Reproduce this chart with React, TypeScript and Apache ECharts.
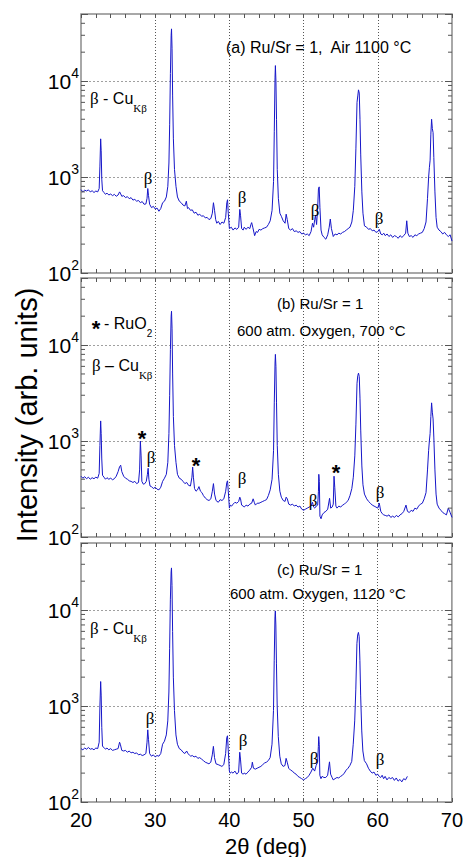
import React, { useEffect, useRef } from 'react';
import * as echarts from 'echarts';

const X_MIN = 20;
const X_MAX = 70;
const X_INTERVAL = 10;
const Y_MIN = 100;
const Y_MAX = 50000;
const minorYTicks = [200, 300, 400, 500, 600, 700, 800, 900, 2000, 3000, 4000, 5000, 6000, 7000, 8000, 9000, 20000, 30000, 40000];

const panelA: [number, number][] = [
  [20.0,740],[20.25,700],[20.5,730],[20.75,715],[21.0,735],[21.25,700],[21.5,720],[21.75,690],[22.0,715],[22.25,700],[22.45,760],[22.55,1300],[22.65,2500],[22.72,1900],[22.8,950],[22.9,720],[23.1,690],[23.3,660],[23.5,680],[23.75,650],[24.0,665],[24.25,640],[24.5,660],[24.75,630],[25.0,650],[25.2,700],[25.3,680],[25.5,630],[25.75,640],[26.0,610],[26.25,625],[26.5,595],[26.75,610],[27.0,575],[27.25,585],[27.5,560],[27.75,570],[28.0,540],[28.25,555],[28.5,520],[28.75,525],[28.9,600],[29.0,760],[29.1,640],[29.25,520],[29.5,480],[29.75,495],[30.0,465],[30.25,475],[30.5,440],[30.75,470],[31.0,540],[31.25,560],[31.5,620],[31.7,800],[31.85,1400],[31.95,3500],[32.05,12000],[32.15,30000],[32.2,35000],[32.27,22000],[32.35,7000],[32.45,2500],[32.6,1200],[32.8,800],[33.0,620],[33.25,560],[33.5,540],[33.75,510],[34.0,500],[34.2,560],[34.35,470],[34.5,480],[34.75,450],[35.0,455],[35.25,420],[35.5,430],[35.75,400],[36.0,410],[36.25,390],[36.5,395],[36.75,375],[37.0,380],[37.25,360],[37.5,370],[37.7,420],[37.85,540],[38.0,450],[38.15,360],[38.3,330],[38.5,345],[38.75,320],[39.0,340],[39.25,330],[39.5,380],[39.65,540],[39.75,580],[39.85,420],[40.0,290],[40.25,300],[40.5,280],[40.75,295],[41.0,285],[41.25,300],[41.4,460],[41.5,400],[41.65,290],[41.85,280],[42.0,300],[42.25,285],[42.5,300],[42.75,290],[42.9,320],[43.0,335],[43.15,300],[43.4,245],[43.6,270],[43.8,265],[44.0,285],[44.25,280],[44.5,290],[44.75,295],[45.0,300],[45.25,320],[45.5,350],[45.75,450],[45.95,900],[46.05,3000],[46.15,11000],[46.2,14500],[46.27,10000],[46.35,4000],[46.45,1200],[46.6,600],[46.8,420],[47.0,390],[47.25,350],[47.5,330],[47.65,410],[47.8,360],[48.0,290],[48.25,280],[48.5,290],[48.75,270],[49.0,275],[49.25,265],[49.5,270],[49.75,255],[50.0,260],[50.25,250],[50.5,255],[50.75,245],[51.0,270],[51.2,330],[51.35,300],[51.5,360],[51.6,400],[51.75,320],[51.9,480],[52.0,750],[52.1,790],[52.2,480],[52.35,280],[52.5,250],[52.75,235],[53.0,225],[53.25,250],[53.45,300],[53.6,365],[53.75,290],[54.0,240],[54.25,255],[54.5,250],[54.75,260],[55.0,255],[55.25,265],[55.5,270],[55.75,280],[56.0,290],[56.25,300],[56.5,340],[56.7,450],[56.9,800],[57.05,2000],[57.2,6000],[57.3,7000],[57.4,8100],[57.5,7500],[57.6,4000],[57.7,1700],[57.85,700],[58.0,420],[58.2,310],[58.5,300],[58.75,285],[59.0,290],[59.25,275],[59.5,280],[59.75,265],[60.0,270],[60.2,285],[60.4,255],[60.6,250],[60.8,260],[61.0,245],[61.25,255],[61.5,240],[61.75,250],[62.0,235],[62.25,245],[62.5,240],[62.75,230],[63.0,245],[63.25,235],[63.5,245],[63.75,260],[63.9,350],[64.05,260],[64.25,240],[64.5,245],[64.75,235],[65.0,250],[65.25,245],[65.5,255],[65.75,260],[66.0,265],[66.25,290],[66.5,340],[66.7,600],[66.85,1000],[66.95,1250],[67.05,1500],[67.15,2800],[67.25,4000],[67.35,3200],[67.45,2900],[67.55,1600],[67.7,700],[67.85,380],[68.0,300],[68.25,280],[68.5,270],[68.75,255],[69.0,265],[69.25,250],[69.5,240],[69.75,250],[70.0,215]
];

const panelB: [number, number][] = [
  [20.0,430],[20.25,410],[20.5,425],[20.75,405],[21.0,420],[21.25,400],[21.5,415],[21.75,405],[22.0,420],[22.25,410],[22.45,460],[22.55,900],[22.65,1620],[22.72,1200],[22.8,650],[22.9,440],[23.1,420],[23.3,400],[23.5,415],[23.75,400],[24.0,410],[24.25,395],[24.5,405],[24.75,430],[25.0,480],[25.2,540],[25.35,560],[25.5,480],[25.75,430],[26.0,410],[26.25,400],[26.5,385],[26.75,380],[27.0,370],[27.25,380],[27.5,360],[27.75,370],[27.9,500],[28.0,1000],[28.1,700],[28.2,380],[28.4,355],[28.6,360],[28.8,380],[28.95,450],[29.05,520],[29.15,400],[29.3,340],[29.5,335],[29.75,320],[30.0,330],[30.25,315],[30.5,310],[30.75,330],[31.0,380],[31.25,410],[31.5,450],[31.7,600],[31.85,1200],[31.95,3000],[32.05,9000],[32.15,20000],[32.2,22500],[32.27,15000],[32.35,5000],[32.45,1800],[32.6,900],[32.8,600],[33.0,450],[33.25,410],[33.5,400],[33.75,380],[34.0,360],[34.25,370],[34.5,345],[34.75,340],[34.95,420],[35.05,535],[35.15,420],[35.3,320],[35.5,300],[35.7,310],[35.9,335],[36.1,300],[36.3,290],[36.5,270],[36.75,255],[37.0,245],[37.25,240],[37.5,250],[37.7,300],[37.85,360],[38.0,280],[38.2,240],[38.5,230],[38.75,245],[39.0,240],[39.25,250],[39.5,300],[39.65,370],[39.75,385],[39.85,300],[40.0,200],[40.1,215],[40.3,210],[40.5,220],[40.75,230],[41.0,225],[41.25,235],[41.4,260],[41.5,250],[41.65,215],[41.85,210],[42.0,205],[42.25,215],[42.5,210],[42.75,220],[43.0,225],[43.2,250],[43.35,230],[43.5,215],[43.75,225],[44.0,225],[44.25,230],[44.5,235],[44.75,240],[45.0,245],[45.25,270],[45.5,310],[45.75,400],[45.95,800],[46.05,2500],[46.15,6500],[46.2,8000],[46.27,6000],[46.35,2500],[46.45,900],[46.6,450],[46.8,300],[47.0,260],[47.25,240],[47.5,235],[47.65,260],[47.8,250],[48.0,220],[48.25,215],[48.5,220],[48.75,210],[49.0,215],[49.25,205],[49.5,210],[49.75,195],[50.0,190],[50.25,195],[50.5,200],[50.75,205],[51.0,210],[51.2,230],[51.35,205],[51.5,200],[51.7,210],[51.9,215],[52.0,300],[52.05,450],[52.12,380],[52.2,165],[52.35,155],[52.5,170],[52.75,180],[53.0,185],[53.25,195],[53.5,253],[53.65,200],[53.85,205],[54.0,220],[54.1,430],[54.2,330],[54.35,210],[54.5,200],[54.75,210],[55.0,205],[55.25,215],[55.5,220],[55.75,230],[56.0,240],[56.25,270],[56.5,320],[56.7,420],[56.9,700],[57.05,1500],[57.2,4000],[57.3,4800],[57.4,5100],[57.5,4700],[57.6,2800],[57.7,1300],[57.85,550],[58.0,350],[58.2,280],[58.5,250],[58.75,235],[59.0,225],[59.25,215],[59.5,210],[59.75,205],[60.0,200],[60.2,225],[60.4,185],[60.6,175],[60.8,170],[61.0,168],[61.25,165],[61.5,170],[61.75,160],[62.0,165],[62.25,160],[62.5,168],[62.75,162],[63.0,170],[63.25,175],[63.5,185],[63.8,215],[64.0,185],[64.25,180],[64.5,190],[64.75,185],[65.0,200],[65.25,195],[65.5,210],[65.75,220],[66.0,225],[66.25,250],[66.5,290],[66.7,500],[66.85,800],[66.95,1000],[67.05,1200],[67.15,1800],[67.25,2500],[67.35,2000],[67.45,1700],[67.55,1100],[67.7,500],[67.85,280],[68.0,220],[68.25,200],[68.5,190],[68.75,180],[69.0,175],[69.25,170],[69.5,200],[69.75,180],[70.0,160]
];

const panelC: [number, number][] = [
  [20.0,360],[20.25,350],[20.5,365],[20.75,355],[21.0,370],[21.25,355],[21.5,360],[21.75,350],[22.0,365],[22.25,360],[22.45,420],[22.55,1000],[22.65,1800],[22.72,1300],[22.8,600],[22.9,380],[23.1,370],[23.3,355],[23.5,365],[23.75,350],[24.0,360],[24.25,345],[24.5,350],[24.75,355],[25.0,360],[25.2,420],[25.3,400],[25.5,345],[25.75,340],[26.0,345],[26.25,330],[26.5,340],[26.75,325],[27.0,330],[27.25,320],[27.5,325],[27.75,310],[28.0,315],[28.25,305],[28.5,310],[28.75,320],[28.9,420],[29.0,565],[29.1,450],[29.25,320],[29.5,300],[29.75,310],[30.0,295],[30.25,305],[30.5,300],[30.75,320],[31.0,400],[31.25,430],[31.5,500],[31.7,700],[31.85,1400],[31.95,4000],[32.05,13000],[32.15,25000],[32.2,27500],[32.27,18000],[32.35,6000],[32.45,2000],[32.6,900],[32.8,500],[33.0,400],[33.25,360],[33.5,350],[33.75,330],[34.0,320],[34.25,340],[34.4,320],[34.6,310],[34.8,300],[35.0,305],[35.25,295],[35.5,300],[35.75,285],[36.0,290],[36.25,280],[36.5,270],[36.75,260],[37.0,255],[37.25,250],[37.5,260],[37.7,310],[37.85,380],[38.0,290],[38.2,250],[38.5,245],[38.75,240],[39.0,235],[39.25,245],[39.5,320],[39.65,470],[39.75,490],[39.85,350],[40.0,210],[40.1,200],[40.3,205],[40.5,200],[40.75,210],[41.0,195],[41.25,205],[41.4,330],[41.5,280],[41.65,200],[41.85,195],[42.0,200],[42.25,195],[42.5,205],[42.75,215],[43.0,230],[43.1,260],[43.25,225],[43.5,220],[43.75,225],[44.0,230],[44.25,235],[44.5,245],[44.75,255],[45.0,260],[45.25,270],[45.5,290],[45.75,400],[45.95,900],[46.05,3000],[46.15,8500],[46.2,9800],[46.27,7000],[46.35,2800],[46.45,1000],[46.6,480],[46.8,300],[47.0,250],[47.25,235],[47.5,240],[47.65,285],[47.8,260],[48.0,225],[48.25,215],[48.5,210],[48.75,200],[49.0,195],[49.25,185],[49.5,180],[49.75,175],[50.0,170],[50.25,175],[50.5,180],[50.75,190],[51.0,205],[51.25,225],[51.5,210],[51.7,240],[51.9,260],[52.0,380],[52.05,480],[52.12,400],[52.2,190],[52.35,175],[52.5,185],[52.75,180],[53.0,180],[53.25,190],[53.5,262],[53.65,195],[53.85,180],[54.0,170],[54.25,175],[54.5,180],[54.75,178],[55.0,185],[55.25,190],[55.5,200],[55.75,215],[56.0,225],[56.25,240],[56.5,265],[56.7,400],[56.9,700],[57.05,1500],[57.2,4500],[57.3,5500],[57.4,5850],[57.5,5300],[57.6,3000],[57.7,1300],[57.85,550],[58.0,340],[58.2,270],[58.5,250],[58.75,225],[59.0,210],[59.25,200],[59.5,205],[59.75,190],[60.0,195],[60.2,185],[60.4,180],[60.6,190],[60.8,175],[61.0,185],[61.25,170],[61.5,180],[61.75,175],[62.0,180],[62.25,168],[62.5,178],[62.75,165],[63.0,172],[63.25,162],[63.5,175],[63.75,170],[64.0,185]
];

const panels = [panelA, panelB, panelC];

const FONT = '"Liberation Sans", Arial, Helvetica, sans-serif';
const SERIF = '"Liberation Serif", "Times New Roman", serif';
const LINE_COLOR = '#1616c8';
const TICK_COLOR = '#555';

const GRIDS = [
  { left: 81, top: 14, width: 371, height: 259 },
  { left: 81, top: 278, width: 371, height: 259 },
  { left: 81, top: 543, width: 371, height: 259 },
];

function txt(x: number, y: number, text: string, size: number, align: string = 'left', extra: any = {}) {
  return {
    type: 'text',
    x,
    y,
    silent: true,
    z: 20,
    style: {
      text,
      fontSize: size,
      fontFamily: FONT,
      fill: '#000',
      align,
      verticalAlign: 'middle',
      lineHeight: 30,
      rich: {
        sub: { fontSize: 10, fontFamily: FONT, verticalAlign: 'bottom', fill: '#000' },
        b: { fontSize: size + 1, fontFamily: SERIF, fill: '#000' },
        sb: { fontSize: 11, fontFamily: SERIF, verticalAlign: 'bottom', fill: '#000' },
      },
      ...extra,
    },
  };
}

function beta(x: number, y: number) {
  return {
    type: 'text', x, y, silent: true, z: 20,
    style: { text: 'β', fontSize: 17, fontFamily: SERIF, fill: '#000', align: 'center', verticalAlign: 'middle' },
  };
}

function star(x: number, y: number) {
  return {
    type: 'text', x, y: y + 5, silent: true, z: 20,
    style: { text: '*', fontSize: 22, fontWeight: 'bold', fontFamily: FONT, fill: '#000', align: 'center', verticalAlign: 'middle' },
  };
}

export default function App() {
  const ref = useRef<HTMLDivElement>(null);
  useEffect(() => {
    document.body.style.margin = '0';
    const chart = echarts.init(ref.current!, null, { renderer: 'svg' });

    const xAxis: any[] = [];
    const yAxis: any[] = [];
    const series: any[] = [];

    GRIDS.forEach((_, i) => {
      const tick = { inside: true, length: 4, lineStyle: { color: TICK_COLOR, width: 1 } };
      xAxis.push({
        gridIndex: i, type: 'value', min: X_MIN, max: X_MAX, interval: X_INTERVAL, position: 'bottom',
        axisLine: { show: false },
        axisTick: tick,
        minorTick: { show: true, splitNumber: 5, length: 4, lineStyle: { color: TICK_COLOR, width: 1 } },
        axisLabel: { show: i === 2, fontSize: 20, color: '#000', fontFamily: FONT, margin: 8, showMinLabel: true, showMaxLabel: true },
        splitLine: { show: true, showMinLine: false, showMaxLine: false, lineStyle: { color: '#555', type: [1, 2], width: 1 } },
      });
      xAxis.push({
        gridIndex: i, type: 'value', min: X_MIN, max: X_MAX, interval: X_INTERVAL, position: 'top',
        axisLine: { show: false },
        axisTick: tick,
        minorTick: { show: true, splitNumber: 5, length: 4, lineStyle: { color: TICK_COLOR, width: 1 } },
        axisLabel: { show: false },
        splitLine: { show: false },
      });
      const yTick = { inside: true, length: 7, lineStyle: { color: TICK_COLOR, width: 1 } };
      yAxis.push({
        gridIndex: i, type: 'log', logBase: 10, min: Y_MIN, max: Y_MAX, position: 'left',
        axisLine: { show: false },
        axisTick: yTick,
        axisLabel: {
          fontSize: 21, color: '#000', fontFamily: FONT, margin: 2, lineHeight: 30,
          formatter: (v: number) => {
            const l = Math.log10(v);
            const e = Math.round(l);
            if (Math.abs(l - e) > 1e-6) return '';
            return '10{s|' + e + '}';
          },
          rich: { s: { fontSize: 14, fontFamily: FONT, verticalAlign: 'top', color: '#000' } },
        },
        splitLine: { show: true, showMinLine: false, showMaxLine: false, lineStyle: { color: '#888', type: [2, 2], width: 0.8 } },
      });
      yAxis.push({
        gridIndex: i, type: 'log', logBase: 10, min: Y_MIN, max: Y_MAX, position: 'right',
        axisLine: { show: false },
        axisTick: yTick,
        axisLabel: { show: false },
        splitLine: { show: false },
      });

      series.push({
        type: 'line',
        xAxisIndex: 2 * i,
        yAxisIndex: 2 * i,
        data: panels[i],
        symbol: 'none',
        showSymbol: false,
        silent: true,
        z: 5,
        lineStyle: { color: LINE_COLOR, width: 1 },
      });
      series.push({
        type: 'custom',
        xAxisIndex: 2 * i,
        yAxisIndex: 2 * i,
        silent: true,
        z: 6,
        data: minorYTicks.map((v) => [X_MIN, v]),
        renderItem: (params: any, api: any) => {
          const cs = params.coordSys;
          const y = api.coord([X_MIN, api.value(1)])[1];
          return {
            type: 'group',
            children: [
              { type: 'line', shape: { x1: cs.x, y1: y, x2: cs.x + 4, y2: y }, style: { stroke: TICK_COLOR, lineWidth: 1 } },
              { type: 'line', shape: { x1: cs.x + cs.width, y1: y, x2: cs.x + cs.width - 4, y2: y }, style: { stroke: TICK_COLOR, lineWidth: 1 } },
            ],
          };
        },
      });
    });

    const graphic: any[] = [
      // panel a
      txt(226, 47, '(a) Ru/Sr = 1,  Air 1100 °C', 16),
      txt(90, 98, '{b|β} - Cu{sb|Kβ}', 16),
      beta(148, 178), beta(242, 197), beta(315, 210), beta(379, 218),
      // panel b
      txt(277, 303, '(b) Ru/Sr = 1', 15),
      txt(237, 330, '600 atm. Oxygen, 700 °C', 15),
      star(96, 323),
      txt(104, 323, '- RuO{sub|2}', 16),
      txt(92, 365, '{b|β} – Cu{sb|Kβ}', 16),
      star(142, 433), star(196, 460), star(336, 467),
      beta(151, 457), beta(242, 478), beta(313, 500), beta(380, 492),
      // panel c
      txt(277, 569, '(c) Ru/Sr = 1', 15),
      txt(230, 593, '600 atm. Oxygen, 1120 °C', 15),
      txt(90, 628, '{b|β} - Cu{sb|Kβ}', 16),
      beta(150, 718), beta(243, 740), beta(314, 758), beta(380, 759),
      // axis names
      {
        type: 'text', x: 27, y: 415, rotation: Math.PI / 2, silent: true,
        style: { text: 'Intensity (arb. units)', fontSize: 29, fontFamily: FONT, fill: '#000', align: 'center', verticalAlign: 'middle' },
      },
      {
        type: 'text', x: 266, y: 846, silent: true,
        style: { text: '2θ (deg)', fontSize: 22, fontFamily: FONT, fill: '#000', align: 'center', verticalAlign: 'middle' },
      },
    ];

    chart.setOption({
      animation: false,
      backgroundColor: '#fff',
      grid: GRIDS.map((g) => ({ ...g, show: true, borderColor: '#8c8c8c', borderWidth: 1.5, backgroundColor: 'transparent', containLabel: false })),
      xAxis,
      yAxis,
      series,
      graphic,
    });
    return () => chart.dispose();
  }, []);
  return <div ref={ref} style={{ width: 466, height: 857, position: 'absolute', left: 0, top: 0 }} />;
}
